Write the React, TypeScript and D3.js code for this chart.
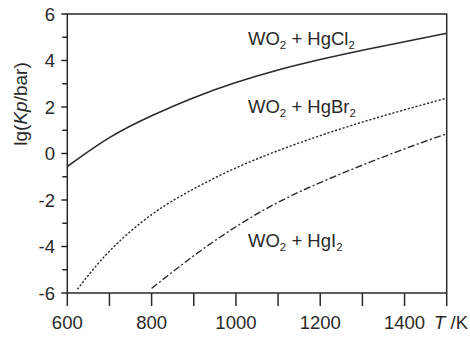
import React, { useEffect } from "react";
import * as d3 from "d3";

const temps = [600, 700, 800, 900, 1000, 1100, 1200, 1300, 1400, 1500];
const hgcl2 = [-0.56, 0.68, 1.62, 2.4, 3.05, 3.59, 4.04, 4.44, 4.81, 5.17];
const hgbr2T = [624, 700, 800, 900, 1000, 1100, 1200, 1300, 1400, 1500];
const hgbr2 = [-5.84, -4.2, -2.63, -1.52, -0.62, 0.12, 0.77, 1.35, 1.88, 2.38];
const hgi2T = [800, 900, 1000, 1100, 1200, 1300, 1400, 1500];
const hgi2 = [-5.8, -4.4, -3.15, -2.1, -1.25, -0.5, 0.2, 0.85];
const xTicks = [600, 700, 800, 900, 1000, 1100, 1200, 1300, 1400, 1500];
const xLabels = [600, 800, 1000, 1200, 1400];
const yMajor = [-6, -4, -2, 0, 2, 4, 6];
const yMinor = [-5, -3, -1, 1, 3, 5];

const W = 470, H = 337;
const left = 67.3, right = 446.7, top = 14, bottom = 293;

export default function App() {
  useEffect(() => {
    document.body.style.margin = "0";
  }, []);
  const x = d3.scaleLinear().domain([600, 1500]).range([left, right]);
  const y = d3.scaleLinear().domain([-6, 6]).range([bottom, top]);
  const line = d3
    .line<[number, number]>()
    .x((d) => x(d[0]))
    .y((d) => y(d[1]))
    .curve(d3.curveNatural);
  const c1 = line(temps.map((t, i) => [t, hgcl2[i]]));
  const c2 = line(hgbr2T.map((t, i) => [t, hgbr2[i]]));
  const c3 = line(hgi2T.map((t, i) => [t, hgi2[i]]));
  const col = "#2a2a2a";
  const font = "Liberation Sans, Arial, Helvetica, sans-serif";
  const Label = ({ xx, yy, hal }: { xx: number; yy: number; hal: string }) => (
    <text x={xx} y={yy} fontSize={18.5} fill={col} fontFamily={font}>
      WO
      <tspan fontSize={11.5} dy={4}>2</tspan>
      <tspan dy={-4}> + Hg{hal}</tspan>
      <tspan fontSize={11.5} dy={4}>2</tspan>
    </text>
  );
  return (
    <svg width={W} height={H} style={{ display: "block", background: "#fff" }}>
      <g fill="none" stroke={col}>
        <path d={c1 || ""} strokeWidth={1.6} />
        <path d={c2 || ""} strokeWidth={1.4} strokeDasharray="2.2,1.8" />
        <path d={c3 || ""} strokeWidth={1.4} strokeDasharray="7,2.5,2,2.5" />
      </g>
      <rect x={left} y={top} width={right - left} height={bottom - top} fill="none" stroke={col} strokeWidth={1.5} />
      {xTicks.map((t) => (
        <line key={"xt" + t} x1={x(t)} x2={x(t)} y1={bottom} y2={bottom + 13} stroke={col} strokeWidth={1.5} />
      ))}
      {yMajor.map((v) => (
        <line key={"ym" + v} x1={left - 6} x2={left} y1={y(v)} y2={y(v)} stroke={col} strokeWidth={1.5} />
      ))}
      {yMinor.map((v) => (
        <line key={"yn" + v} x1={left - 5} x2={left} y1={y(v)} y2={y(v)} stroke={col} strokeWidth={1.5} />
      ))}
      {xLabels.map((t) => (
        <text key={"xl" + t} x={x(t)} y={329} textAnchor="middle" fontSize={18.5} fill={col} fontFamily={font}>
          {t}
        </text>
      ))}
      <text x={468} y={329} textAnchor="end" fontSize={18.5} fill={col} fontFamily={font}>
        <tspan fontStyle="italic">T</tspan> /K
      </text>
      {yMajor.map((v) => (
        <text key={"yl" + v} x={55} y={y(v) + 6.5} textAnchor="end" fontSize={18.5} fill={col} fontFamily={font}>
          {v}
        </text>
      ))}
      <text
        transform={`translate(27,104) rotate(-90)`}
        textAnchor="middle"
        fontSize={19}
        fill={col}
        fontFamily={font}
      >
        lg(<tspan fontStyle="italic">Kp</tspan>/bar)
      </text>
      <Label xx={248} yy={45} hal="Cl" />
      <Label xx={248} yy={113} hal="Br" />
      <Label xx={248} yy={247} hal="I" />
    </svg>
  );
}
